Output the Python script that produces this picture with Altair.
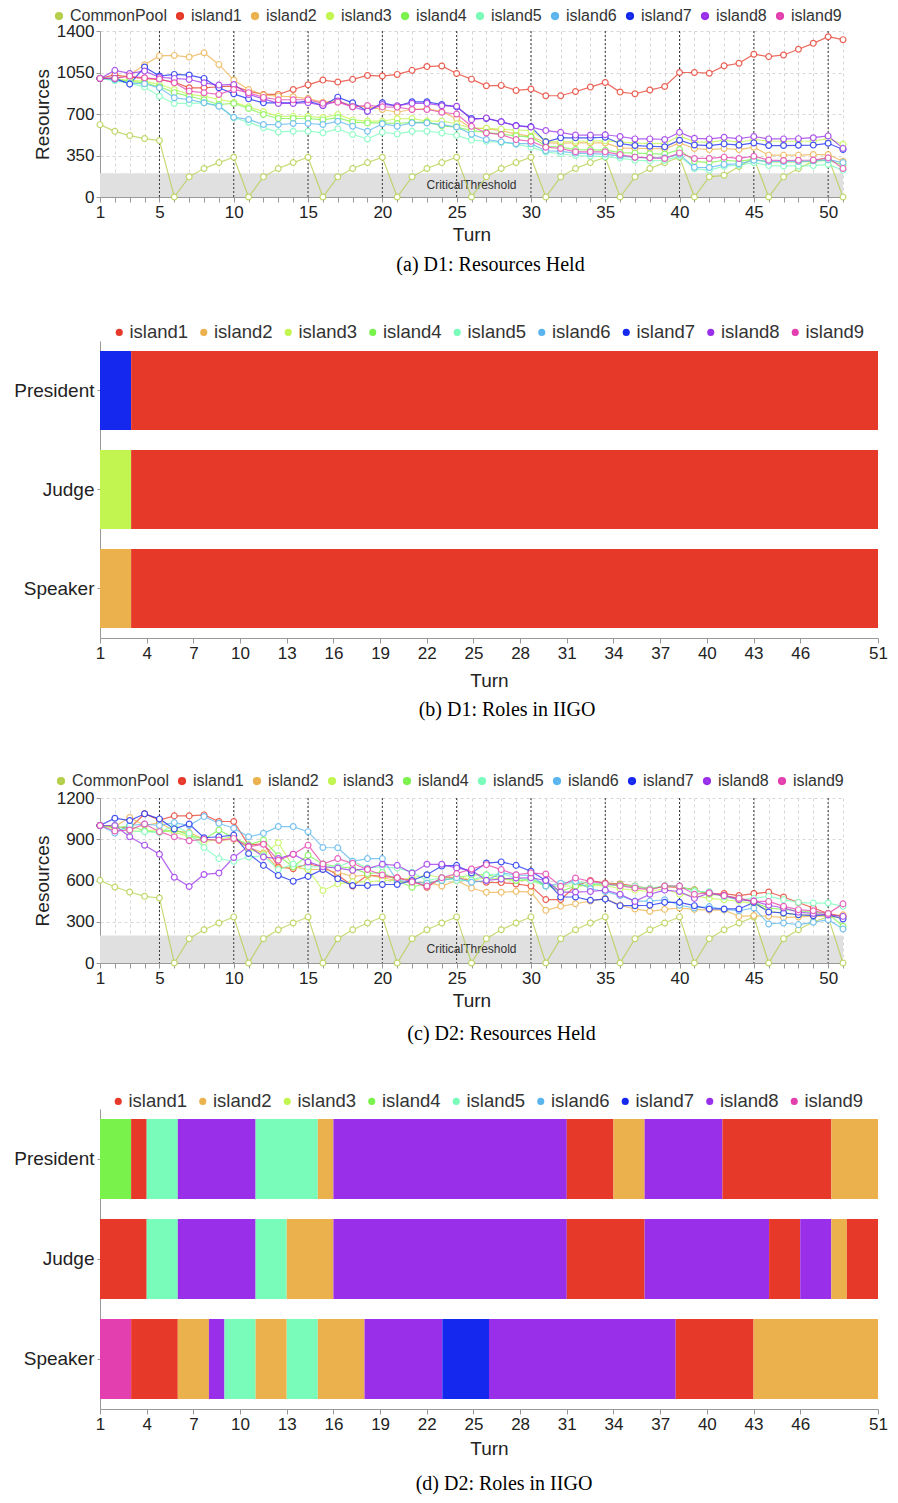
import altair as alt
import pandas as pd

turns = list(range(1, 52))
series_names = ["CommonPool", "island1", "island2", "island3", "island4",
                "island5", "island6", "island7", "island8", "island9"]
series_colors = ["#b3cf4a", "#e6392a", "#ebb14c", "#c2f550", "#7af24c",
                 "#79fcba", "#5ab4ee", "#1428ee", "#9a2fe9", "#e33fae"]
islands = series_names[1:]
island_colors = series_colors[1:]

# ---------------- D1 resources ----------------
d1_commonpool = [610, 554, 518, 493, 476, 0, 170, 240, 290, 335,
                 0, 170, 240, 290, 335, 0, 170, 240, 290, 335,
                 0, 170, 240, 290, 335, 0, 170, 240, 290, 335,
                 0, 170, 240, 290, 335, 0, 170, 240, 290, 335,
                 0, 170, 183, 258, 328, 0, 170, 240, 300, 335, 0]
d1_island1 = [1000, 1030, 1010, 1000, 990, 970, 921, 921, 930, 935,
              893, 865, 865, 907, 946, 986, 969, 992, 1025, 1020,
              1034, 1068, 1100, 1105, 1042, 994, 938, 941, 899, 910,
              854, 854, 890, 927, 966, 885, 871, 902, 932, 1050,
              1050, 1044, 1106, 1128, 1204, 1184, 1198, 1246, 1296, 1352, 1327]
d1_island2 = [1000, 1000, 1030, 1115, 1190, 1194, 1180, 1217, 1118, 986,
              907, 860, 851, 845, 830, 800, 810, 770, 760, 738,
              715, 740, 745, 720, 660, 582, 577, 560, 532, 512,
              456, 454, 456, 456, 456, 414, 409, 409, 406, 456,
              409, 400, 409, 400, 420, 353, 353, 353, 358, 358, 302]
d1_island3 = [1000, 990, 985, 975, 950, 907, 865, 851, 822, 800,
              760, 720, 680, 680, 680, 670, 696, 650, 640, 640,
              660, 662, 640, 640, 618, 580, 580, 572, 565, 560,
              470, 468, 470, 470, 475, 462, 455, 452, 450, 515,
              465, 462, 478, 462, 485, 470, 470, 470, 472, 492, 445]
d1_island4 = [1000, 995, 975, 963, 930, 880, 850, 820, 780, 789,
              746, 696, 662, 662, 662, 650, 670, 631, 625, 625,
              620, 630, 631, 600, 590, 560, 545, 530, 515, 505,
              430, 420, 400, 398, 395, 375, 370, 365, 362, 400,
              300, 290, 310, 300, 320, 295, 295, 295, 300, 310, 270]
d1_island5 = [1000, 980, 960, 927, 850, 789, 789, 794, 770, 668,
              631, 583, 549, 555, 555, 541, 575, 527, 490, 546,
              532, 555, 555, 540, 520, 480, 470, 460, 445, 420,
              380, 365, 350, 345, 340, 328, 310, 305, 310, 345,
              240, 225, 260, 270, 290, 265, 262, 262, 265, 275, 225]
d1_island6 = [1000, 990, 960, 955, 921, 837, 822, 794, 766, 673,
              654, 611, 611, 620, 620, 611, 639, 597, 555, 617,
              597, 625, 625, 610, 590, 530, 485, 465, 450, 450,
              390, 385, 370, 365, 362, 345, 335, 330, 330, 360,
              250, 248, 275, 280, 310, 300, 300, 300, 305, 315, 290]
d1_island7 = [1000, 1000, 952, 1096, 1020, 1034, 1028, 1000, 921, 870,
              828, 794, 794, 794, 808, 772, 842, 794, 724, 794,
              766, 803, 803, 780, 760, 662, 662, 634, 603, 592,
              465, 499, 499, 499, 504, 451, 434, 428, 423, 479,
              439, 434, 448, 437, 456, 434, 434, 436, 438, 453, 400]
d1_island8 = [1000, 1068, 1042, 1062, 1010, 1000, 991, 963, 944, 949,
              865, 828, 789, 789, 795, 772, 810, 761, 724, 780,
              770, 790, 790, 770, 765, 652, 666, 634, 600, 590,
              560, 545, 522, 522, 525, 510, 490, 490, 485, 545,
              495, 490, 503, 492, 510, 490, 490, 492, 500, 515, 410]
d1_island9 = [1000, 1000, 1020, 1005, 995, 963, 893, 879, 865, 907,
              880, 840, 820, 820, 820, 790, 800, 761, 772, 760,
              758, 738, 738, 715, 700, 596, 540, 526, 484, 470,
              420, 409, 381, 381, 381, 358, 336, 330, 325, 372,
              325, 325, 336, 325, 344, 311, 308, 310, 312, 330, 241]

# ---------------- D2 resources ----------------
d2_commonpool = [601, 553, 516, 485, 473, 0, 177, 242, 291, 335,
                 0, 177, 242, 291, 335, 0, 177, 242, 291, 335,
                 0, 177, 242, 291, 335, 0, 177, 242, 291, 335,
                 0, 177, 242, 291, 335, 0, 177, 242, 291, 335,
                 0, 177, 242, 291, 335, 0, 177, 242, 300, 335, 0]
d2_island1 = [1000, 990, 980, 1085, 1040, 1070, 1070, 1077, 1029, 1029,
              857, 869, 698, 686, 720, 700, 640, 560, 639, 630,
              620, 600, 551, 620, 620, 600, 587, 585, 575, 560,
              461, 461, 560, 600, 582, 575, 560, 540, 555, 550,
              533, 500, 505, 490, 505, 516, 480, 440, 400, 360, 340]
d2_island2 = [1000, 992, 1058, 1000, 1020, 960, 950, 900, 890, 900,
              840, 800, 690, 700, 680, 680, 660, 630, 640, 620,
              600, 580, 590, 560, 600, 545, 514, 514, 521, 516,
              383, 412, 431, 450, 470, 420, 393, 376, 390, 400,
              390, 385, 385, 339, 345, 340, 330, 335, 340, 340, 350]
d2_island3 = [1000, 1000, 960, 960, 970, 950, 920, 880, 900, 920,
              830, 790, 874, 700, 680, 527, 576, 590, 590, 600,
              600, 620, 640, 620, 640, 600, 620, 610, 600, 600,
              560, 560, 560, 560, 565, 540, 530, 520, 540, 500,
              490, 470, 460, 450, 430, 380, 360, 350, 350, 340, 330]
d2_island4 = [1000, 980, 1000, 960, 950, 970, 930, 900, 967, 910,
              860, 894, 780, 700, 784, 720, 700, 690, 650, 660,
              600, 551, 580, 600, 620, 640, 642, 620, 600, 610,
              570, 520, 560, 570, 575, 570, 550, 540, 562, 555,
              530, 500, 490, 470, 440, 400, 390, 380, 370, 360, 267]
d2_island5 = [1000, 1000, 960, 955, 950, 1000, 943, 840, 759, 740,
              771, 780, 680, 720, 700, 700, 700, 740, 690, 700,
              690, 660, 600, 620, 600, 601, 640, 650, 620, 600,
              560, 560, 590, 580, 570, 560, 560, 540, 560, 560,
              520, 520, 480, 460, 470, 485, 461, 441, 436, 436, 412]
d2_island6 = [1000, 945, 1000, 1010, 1000, 1021, 1000, 1065, 1016, 980,
              918, 943, 992, 992, 955, 840, 838, 740, 759, 759,
              600, 590, 580, 600, 620, 587, 600, 655, 640, 635,
              560, 580, 594, 540, 520, 490, 450, 450, 460, 420,
              400, 410, 390, 380, 400, 284, 291, 279, 296, 315, 247]
d2_island7 = [1000, 1053, 1036, 1085, 1048, 975, 1011, 911, 918, 930,
              796, 710, 637, 595, 630, 680, 612, 564, 564, 571,
              571, 600, 642, 705, 710, 655, 727, 735, 710, 667,
              601, 480, 480, 456, 465, 417, 417, 420, 441, 441,
              417, 393, 393, 393, 441, 371, 364, 351, 344, 351, 320]
d2_island8 = [1000, 1000, 918, 857, 791, 624, 556, 644, 654, 767,
              850, 771, 759, 791, 735, 700, 690, 674, 686, 718,
              710, 654, 718, 718, 690, 674, 601, 611, 618, 620,
              600, 516, 516, 520, 530, 500, 448, 500, 530, 520,
              470, 509, 490, 461, 450, 420, 400, 370, 360, 350, 339]
d2_island9 = [1000, 960, 967, 1011, 955, 918, 889, 899, 894, 906,
              845, 864, 747, 791, 857, 720, 759, 725, 680, 640,
              620, 590, 560, 620, 650, 684, 715, 679, 642, 655,
              647, 558, 618, 594, 577, 562, 545, 533, 560, 560,
              500, 510, 490, 470, 450, 448, 412, 388, 380, 360, 430]

season_turns = [5, 10, 15, 20, 25, 30, 35, 40, 45, 50]
critical_threshold = 200
threshold_label = "CriticalThreshold"
threshold_label_turn = 26

# ---------------- Roles (holder, starting turn), last segment ends at 51 ----------------
roles = ["President", "Judge", "Speaker"]
last_turn = 51
d1_president_holders = ["island7", "island1"]
d1_president_starts = [1, 3]
d1_judge_holders = ["island3", "island1"]
d1_judge_starts = [1, 3]
d1_speaker_holders = ["island2", "island1"]
d1_speaker_starts = [1, 3]

d2_president_holders = ["island4", "island1", "island5", "island8", "island5", "island2",
                        "island8", "island1", "island2", "island8", "island1", "island2"]
d2_president_starts = [1, 3, 4, 6, 11, 15, 16, 31, 34, 36, 41, 48]
d2_judge_holders = ["island1", "island5", "island8", "island5", "island2", "island8",
                    "island1", "island8", "island1", "island8", "island2", "island1"]
d2_judge_starts = [1, 4, 6, 11, 13, 16, 31, 36, 44, 46, 48, 49]
d2_speaker_holders = ["island9", "island1", "island2", "island8", "island5", "island2",
                      "island5", "island2", "island8", "island7", "island8", "island1", "island2"]
d2_speaker_starts = [1, 3, 6, 8, 9, 11, 13, 15, 18, 23, 26, 38, 43]

role_ticks = [1, 4, 7, 10, 13, 16, 19, 22, 25, 28, 31, 34, 37, 40, 43, 46, 51]

FONT = "Liberation Sans"
SERIF = "Liberation Serif"
L_WIDTH = 743
B_WIDTH = 778


def line_panel(series_vals, ymax, ystep, height, caption, dx, lx, ly, lpad, title_pad, cap_off):
    rows = []
    for name, vals in zip(series_names, series_vals):
        for t, v in zip(turns, vals):
            rows.append({"Turn": t, "Resources": v, "series": name})
    df = pd.DataFrame(rows)
    xscale = alt.Scale(domain=[1, 51], nice=False, zero=False)
    yscale = alt.Scale(domain=[0, ymax], nice=False)
    xaxis = alt.Axis(values=turns, labelExpr="datum.value == 1 || datum.value % 5 == 0 ? datum.value : ''",
                     labelOverlap=False, grid=True, gridDash=[3, 3], gridColor="#d6d6d6", tickSize=5,
                     labelFontSize=17, labelPadding=2, title="Turn", titleFontSize=19,
                     titlePadding=title_pad, labelFlush=False)
    yaxis = alt.Axis(values=list(range(0, ymax + 1, ystep)), format="d", labelOverlap=False, grid=True,
                     gridDash=[3, 3], gridColor="#d6d6d6", tickSize=4, labelFontSize=17, labelPadding=2,
                     title="Resources", titleFontSize=19, titlePadding=4)
    X = lambda f: alt.X(f, scale=xscale, axis=xaxis, title="Turn")
    Y = lambda f: alt.Y(f, scale=yscale, axis=yaxis, title="Resources")
    color_scale = alt.Scale(domain=series_names, range=series_colors)
    legend = alt.Legend(orient="none", legendX=lx, legendY=ly, direction="horizontal",
                        title=None, labelFont=FONT, labelFontSize=16, labelColor="#333",
                        symbolType="circle", symbolSize=14, symbolStrokeWidth=4.5, symbolOpacity=1,
                        labelOffset=3, columnPadding=2, padding=lpad)

    band_df = pd.DataFrame({"t0": [1], "t1": [51], "lo": [0], "hi": [critical_threshold]})
    band = alt.Chart(band_df).mark_rect(color="#e0e0e0").encode(
        x=X("t0:Q"), x2="t1:Q", y=Y("lo:Q"), y2="hi:Q")
    label_df = pd.DataFrame({"Turn": [threshold_label_turn], "y": [critical_threshold / 2],
                             "label": [threshold_label]})
    label = alt.Chart(label_df).mark_text(font=FONT, fontSize=12, color="#333").encode(
        x=X("Turn:Q"), y=Y("y:Q"), text="label:N")
    rules = alt.Chart(pd.DataFrame({"Turn": season_turns})).mark_rule(
        color="#333", strokeDash=[2, 2], strokeWidth=1).encode(x=X("Turn:Q"))
    base = alt.Chart(df)
    lines = base.mark_line(strokeWidth=1.2, opacity=0.75).encode(
        x=X("Turn:Q"), y=Y("Resources:Q"),
        color=alt.Color("series:N", scale=color_scale, legend=legend))
    points = base.mark_point(shape="circle", filled=False, fill="white", fillOpacity=1,
                             size=34, strokeWidth=1.2, strokeOpacity=0.8).encode(
        x=X("Turn:Q"), y=Y("Resources:Q"),
        color=alt.Color("series:N", scale=color_scale, legend=legend))
    return alt.layer(band, rules, label, lines, points).properties(
        width=L_WIDTH, height=height,
        title=alt.TitleParams(text=caption, orient="bottom", font=SERIF, fontSize=20, fontWeight="normal",
                              anchor="middle", frame="group", dx=dx, offset=cap_off, color="#000"))


def role_panel(holder_lists, start_lists, height, caption, dx, lx, ly, lpad, title_pad, cap_off):
    rows = []
    for role, holders, starts in zip(roles, holder_lists, start_lists):
        ends = starts[1:] + [last_turn]
        for h, s, e in zip(holders, starts, ends):
            rows.append({"role": role, "island": h, "start": s, "end": e})
    df = pd.DataFrame(rows)
    return alt.Chart(df).mark_bar().encode(
        x=alt.X("start:Q", scale=alt.Scale(domain=[1, 51], nice=False, zero=False),
                axis=alt.Axis(values=role_ticks, grid=False, tickSize=5, labelFontSize=17, labelPadding=2,
                              labelOverlap=False, title="Turn", titleFontSize=19, titlePadding=title_pad,
                              labelFlush=False)),
        x2="end:Q",
        y=alt.Y("role:N", sort=roles, scale=alt.Scale(paddingInner=0.2, paddingOuter=0.1),
                axis=alt.Axis(title=None, tickSize=3, labelFontSize=19, labelPadding=3)),
        color=alt.Color("island:N", scale=alt.Scale(domain=islands, range=island_colors),
                        legend=alt.Legend(orient="none", legendX=lx, legendY=ly, direction="horizontal",
                                          title=None, labelFont=FONT, labelFontSize=18.5, labelColor="#333",
                                          symbolType="circle", symbolSize=50, labelOffset=1,
                                          columnPadding=5.5, padding=lpad)),
    ).properties(width=B_WIDTH, height=height,
                 title=alt.TitleParams(text=caption, orient="bottom", font=SERIF, fontSize=20,
                                       fontWeight="normal", anchor="middle", frame="group", dx=dx,
                                       offset=cap_off, color="#000"))


pa = line_panel([d1_commonpool, d1_island1, d1_island2, d1_island3, d1_island4, d1_island5,
                 d1_island6, d1_island7, d1_island8, d1_island9],
                1400, 350, 166, "(a)  D1:  Resources Held", 19, -49, -23, 0, 5, 11)
pb = role_panel([d1_president_holders, d1_judge_holders, d1_speaker_holders],
                [d1_president_starts, d1_judge_starts, d1_speaker_starts],
                297, "(b)  D1:  Roles in IIGO", 18, 0, -28, 10, 10, 10)
pc = line_panel([d2_commonpool, d2_island1, d2_island2, d2_island3, d2_island4, d2_island5,
                 d2_island6, d2_island7, d2_island8, d2_island9],
                1200, 300, 165, "(c)  D2:  Resources Held", 30, -62, -40, 15, 5, 14)
pd_ = role_panel([d2_president_holders, d2_judge_holders, d2_speaker_holders],
                 [d2_president_starts, d2_judge_starts, d2_speaker_starts],
                 300, "(d)  D2:  Roles in IIGO", 15, -1, -27, 10, 7, 16)

chart = alt.vconcat(pa, pb, pc, pd_, spacing=38).resolve_scale(
    color="independent", x="independent", y="independent").resolve_legend(
    color="independent").properties(
    padding={"left": 5, "top": 0, "right": 0, "bottom": 0}).configure_axis(
    labelFont=FONT, titleFont=FONT, domainColor="#999", tickColor="#999", labelColor="#222",
    titleColor="#222", titleFontWeight="normal").configure_view(stroke=None)

chart.save("out.html", embed_options={"renderer": "svg", "actions": False})
